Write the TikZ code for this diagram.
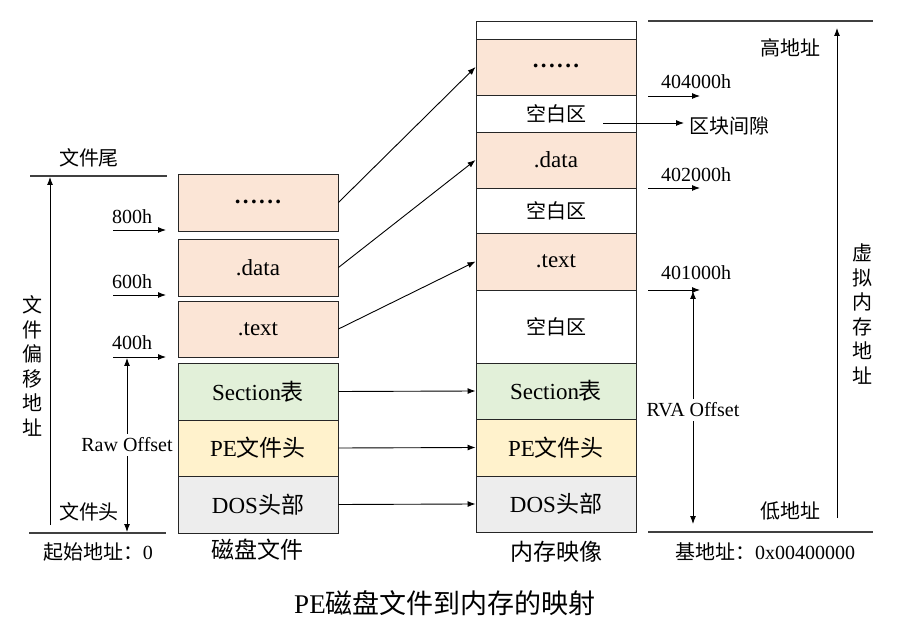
\documentclass[tikz,border=0pt]{standalone}
\usepackage{fontspec}
\setmainfont{Liberation Serif}
\newfontfamily\cjk{Noto Sans CJK SC}
\usetikzlibrary{arrows.meta}
\definecolor{peach}{HTML}{FBE5D6}
\definecolor{mint}{HTML}{E2F0D9}
\definecolor{cream}{HTML}{FFF2CC}
\definecolor{lgray}{HTML}{EDEDED}
\newcommand\mydot{\textbf{.}}
\newcommand\sixdots{\raisebox{-0.03em}[0pt][0pt]{\mydot\kern2.4pt\mydot\kern2.4pt\mydot\kern2.4pt\mydot\kern2.4pt\mydot\kern2.4pt\mydot}}
\begin{document}
\begin{tikzpicture}[x=1pt,y=-1pt,
 seg/.style={draw=black!85, line width=0.9pt, minimum width=160pt, inner sep=0pt, font=\fontsize{23}{27}\selectfont},
 lbl/.style={inner sep=0pt, font=\fontsize{20}{24}\selectfont},
 captext/.style={inner sep=0pt, font=\fontsize{23}{27}\selectfont},
 arr/.style={-{Latex[length=8pt,width=6pt]}, line width=0.9pt},
 guide/.style={draw=black!75, line width=1.4pt}]
\useasboundingbox (0,0) rectangle (906,631);
% disk file column
\node[seg, fill=peach, minimum height=57pt] (L1) at (258,202.5) {\sixdots};
\node[seg, fill=peach, minimum height=57pt] (L2) at (258,267.5) {.data};
\node[seg, fill=peach, minimum height=56pt] (L3) at (258,329) {.text};
\node[seg, fill=mint, minimum height=57pt] (L4) at (258,391.5) {Section{\cjk 表}};
\node[seg, fill=cream, minimum height=56pt] (L5) at (258,448) {PE{\cjk 文件头}};
\node[seg, fill=lgray, minimum height=57pt] (L6) at (258,504.5) {DOS{\cjk 头部}};
% memory column
\node[seg, fill=white, minimum height=18pt] (R0) at (556,30) {};
\node[seg, fill=peach, minimum height=56pt] (R1) at (556,67) {\sixdots};
\node[seg, fill=white, minimum height=37pt, font=\fontsize{20}{24}\selectfont] (R2) at (556,113.5) {{\cjk 空白区}};
\node[seg, fill=peach, minimum height=56pt] (R3) at (556,160) {.data};
\node[seg, fill=white, minimum height=45pt, font=\fontsize{20}{24}\selectfont] (R4) at (556,210.5) {{\cjk 空白区}};
\node[seg, fill=peach, minimum height=57pt] (R5) at (556,261.5) {.text};
\node[seg, fill=white, minimum height=73pt, font=\fontsize{20}{24}\selectfont] (R6) at (556,326.5) {{\cjk 空白区}};
\node[seg, fill=mint, minimum height=56pt] (R7) at (556,391) {Section{\cjk 表}};
\node[seg, fill=cream, minimum height=57pt] (R8) at (556,447.5) {PE{\cjk 文件头}};
\node[seg, fill=lgray, minimum height=56pt] (R9) at (556,504) {DOS{\cjk 头部}};
% mapping connectors
\draw[arr] (L1.east) -- (R1.west);
\draw[arr] (L2.east) -- (R3.west);
\draw[arr] (L3.east) -- (R5.west);
\draw[arr] (L4.east) -- (R7.west);
\draw[arr] (L5.east) -- (R8.west);
\draw[arr] (L6.east) -- (R9.west);
% left annotations
\coordinate (ltA) at (30,176); \coordinate (ltB) at (167,176);
\coordinate (lbA) at (29,533); \coordinate (lbB) at (166,533);
\draw[guide] (ltA) -- (ltB);
\draw[guide] (lbA) -- (lbB);
\node[lbl] (tail) at (89,158) {{\cjk 文件尾}};
\node[lbl] (head) at (89,512) {{\cjk 文件头}};
\coordinate (lv0) at (50,525); \coordinate (lv1) at (50,177);
\draw[arr] (lv0) -- (lv1);
\node[inner sep=0pt, align=center, font=\fontsize{20}{24.5}\selectfont\cjk] (foff) at (33,366) {文\\件\\偏\\移\\地\\址};
\node[lbl, inner ysep=4pt, inner xsep=1pt] (raw) at (127,445) {Raw Offset};
\coordinate (rawT) at (127,358); \coordinate (rawB) at (127,532);
\draw[arr] (raw) -- (rawT);
\draw[arr] (raw) -- (rawB);
\coordinate (a8s) at (113,230); \coordinate (a8e) at (166,230);
\coordinate (a6s) at (113,295); \coordinate (a6e) at (166,295);
\coordinate (a4s) at (113,357); \coordinate (a4e) at (166,357);
\draw[arr] (a8s) -- (a8e);
\draw[arr] (a6s) -- (a6e);
\draw[arr] (a4s) -- (a4e);
\node[lbl, anchor=west] (t8) at (112,217) {800h};
\node[lbl, anchor=west] (t6) at (112,282) {600h};
\node[lbl, anchor=west] (t4) at (112,343) {400h};
\node[lbl] (start) at (98,552) {{\cjk 起始地址：}0};
\node[captext] (disk) at (257,550) {{\cjk 磁盘文件}};
\node[captext] (mem) at (556,552) {{\cjk 内存映像}};
% right annotations
\coordinate (rtA) at (648,21); \coordinate (rtB) at (873,21);
\coordinate (rbA) at (648,532); \coordinate (rbB) at (873,532);
\draw[guide] (rtA) -- (rtB);
\draw[guide] (rbA) -- (rbB);
\coordinate (rv0) at (837,518); \coordinate (rv1) at (837,28);
\draw[arr] (rv0) -- (rv1);
\node[lbl] (hi) at (790,48) {{\cjk 高地址}};
\node[lbl] (lo) at (790,511) {{\cjk 低地址}};
\node[inner sep=0pt, align=center, font=\fontsize{20}{24.5}\selectfont\cjk] (vaddr) at (862,314) {虚\\拟\\内\\存\\地\\址};
\coordinate (b4s) at (648,96); \coordinate (b4e) at (700,96);
\coordinate (b2s) at (648,188); \coordinate (b2e) at (700,188);
\coordinate (b1s) at (648,290); \coordinate (b1e) at (700,290);
\draw[arr] (b4s) -- (b4e);
\draw[arr] (b2s) -- (b2e);
\draw[arr] (b1s) -- (b1e);
\node[lbl, anchor=west] (h4) at (661,82) {404000h};
\node[lbl, anchor=west] (h2) at (661,175) {402000h};
\node[lbl, anchor=west] (h1) at (661,273) {401000h};
\coordinate (gapS) at (603,123); \coordinate (gapE) at (684,123);
\draw[arr] (gapS) -- (gapE);
\node[lbl, anchor=west] (gap) at (689,126) {{\cjk 区块间隙}};
\node[lbl, inner ysep=4pt, inner xsep=1pt] (rva) at (693,410) {RVA Offset};
\coordinate (rvaT) at (693,291); \coordinate (rvaB) at (693,524);
\draw[arr] (rva) -- (rvaT);
\draw[arr] (rva) -- (rvaB);
\node[lbl] (base) at (765,552) {{\cjk 基地址：}0x00400000};
% title
\node[inner sep=0pt, font=\fontsize{27}{31}\selectfont] (title) at (445,603) {PE{\cjk 磁盘文件到内存的映射}};
\end{tikzpicture}
\end{document}
